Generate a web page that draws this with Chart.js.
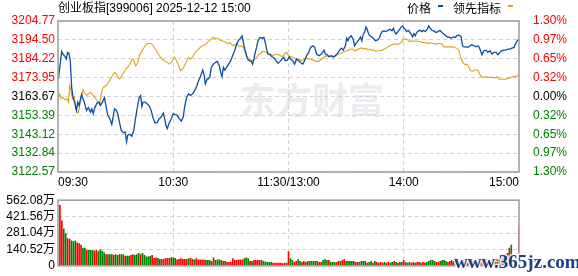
<!DOCTYPE html>
<html><head><meta charset="utf-8">
<script src="https://cdn.jsdelivr.net/npm/chart.js@4/dist/chart.umd.min.js"></script>
<style>
html,body{margin:0;padding:0;background:#fff;}
#wrap{position:relative;width:578px;height:276px;overflow:hidden;background:#fff;}
canvas{position:absolute;left:0;}
#c1{top:0;}
#c2{top:190px;}
</style></head><body>
<div id="wrap"><canvas id="c1" width="578" height="196" style="width:578px;height:196px"></canvas><canvas id="c2" width="578" height="86" style="width:578px;height:86px"></canvas></div>
<script>
// ---------- DATA ----------
const titleText = '创业板指[399006] 2025-12-12 15:00';
const prevClose = 3163.67;
const timeTicks = [0, 60, 120, 180, 240];
const timeLabels = ['09:30', '10:30', '11:30/13:00', '14:00', '15:00'];
const priceTicks = [3122.57, 3132.84, 3143.12, 3153.39, 3163.67, 3173.95, 3184.22, 3194.50, 3204.77];
const pctLabels = ['1.30%', '0.97%', '0.65%', '0.32%', '0.00%', '0.32%', '0.65%', '0.97%', '1.30%'];
const volTicks = [0, 140.52, 281.04, 421.56, 562.08];
const volLabels = ['0', '140.52万', '281.04万', '421.56万', '562.08万'];

// price (minutes after 09:30, trading minutes)
const priceMin = [
0.2,1.9,2.6,3.7,4.3,5.0,5.7,6.4,7.1,7.8,8.9,9.6,10.3,11.0,11.7,12.3,13.0,13.7,14.8,15.8,16.9,17.6,18.3,19.3,20.3,21.4,22.1,23.1,24.2,24.9,25.9,27.0,28.0,28.7,29.4,30.4,31.1,31.8,32.9,33.9,35.0,35.7,36.3,37.4,38.4,39.5,40.2,41.2,42.3,43.0,43.7,44.3,45.4,46.4,47.5,48.5,49.6,50.6,51.7,52.7,53.7,54.8,55.5,56.2,56.9,57.9,59.0,60.0,61.0,62.1,63.1,64.2,65.2,65.9,67.0,68.0,69.0,70.1,71.1,72.2,73.2,74.3,75.3,76.0,76.7,77.7,
78.1,79.0,79.8,80.9,81.9,82.9,84.0,84.7,85.4,86.1,86.8,87.8,88.8,89.9,90.9,92.0,93.0,94.0,95.1,95.8,96.5,97.2,97.9,98.6,99.6,100.6,101.3,102.0,102.7,103.4,104.1,105.2,106.2,107.2,107.9,108.6,109.3,110.4,111.4,112.4,113.5,114.5,115.6,116.6,117.6,118.3,119.4,120.4,121.1,122.2,123.2,124.2,125.3,126.3,127.4,128.4,129.4,130.5,131.5,132.6,133.6,134.6,135.7,136.7,137.8,138.5,139.2,140.2,141.2,142.3,143.3,144.4,145.4,146.5,147.5,148.5,149.6,150.3,151.0,151.7,152.7,153.7,154.4,155.5,156.5,157.5,158.2,
158.9,159.6,160.3,161.0,161.7,162.4,163.4,164.5,165.2,166.2,167.3,168.0,168.7,169.7,170.7,171.8,172.8,173.9,174.6,175.2,175.9,176.6,177.3,178.4,179.4,180.1,180.8,181.5,182.5,183.2,183.9,184.6,185.3,186.0,186.7,187.7,188.4,189.5,190.2,191.2,192.3,193.0,193.6,194.7,195.7,196.8,197.8,198.8,199.9,200.9,202.0,203.0,203.7,204.7,205.8,206.8,207.5,208.6,209.3,209.9,210.6,211.3,212.4,213.4,214.5,215.5,216.5,217.6,218.6,219.3,220.0,220.7,221.7,222.8,223.8,224.9,225.9,227.0,228.0,229.0,230.1,231.1,232.2,233.2,234.2,235.3,236.3,237.4,238.1,238.8,239.8
];
const priceVal = [
3173.2,3188.2,3186.8,3185.3,3184.1,3187.7,3187.1,3183.2,3168.7,3163.3,3159.7,3156.1,3160.6,3158.8,3162.4,3164.8,3162.4,3160.6,3156.1,3157.6,3155.2,3157.0,3154.3,3157.9,3160.1,3160.6,3158.8,3160.6,3163.0,3158.8,3153.4,3151.6,3148.5,3152.5,3157.0,3156.1,3154.3,3150.7,3145.3,3143.9,3144.4,3139.0,3142.6,3143.1,3142.0,3145.3,3150.7,3157.0,3163.3,3164.2,3158.3,3160.6,3160.6,3159.7,3158.6,3156.1,3151.6,3149.3,3149.6,3151.6,3152.5,3154.7,3151.6,3148.0,3146.2,3149.3,3151.6,3154.3,3153.8,3153.4,3151.6,3150.3,3152.5,3157.9,3163.3,3165.1,3164.2,3165.1,3166.9,3169.1,3172.3,3175.0,3178.1,3175.9,3170.5,3173.2,
3173.2,3174.1,3179.5,3181.3,3182.2,3182.8,3180.4,3176.8,3174.5,3179.5,3178.1,3179.5,3181.3,3183.2,3185.9,3188.6,3192.2,3194.3,3195.4,3196.7,3193.1,3189.5,3186.8,3184.1,3183.2,3182.8,3181.3,3184.1,3187.7,3190.4,3194.0,3195.8,3195.4,3195.8,3193.1,3189.5,3186.8,3186.4,3185.3,3184.6,3183.2,3181.7,3182.8,3184.1,3185.0,3183.2,3183.5,3185.3,3184.1,3183.2,3181.3,3184.1,3183.2,3182.2,3181.3,3183.2,3185.9,3187.7,3190.4,3191.3,3190.7,3186.8,3185.9,3186.4,3187.7,3188.9,3186.8,3186.4,3185.3,3185.9,3185.3,3185.9,3187.1,3188.6,3190.0,3188.9,3191.3,3195.4,3194.0,3195.8,3196.7,3194.9,3191.3,3193.1,3194.3,3196.1,3194.0,
3197.6,3198.5,3201.5,3200.3,3197.6,3196.7,3196.1,3194.9,3194.0,3194.3,3195.4,3197.6,3199.0,3199.4,3199.0,3199.7,3200.3,3199.4,3200.8,3199.0,3197.6,3198.5,3199.4,3201.2,3202.1,3200.8,3200.3,3199.0,3199.7,3198.5,3197.6,3196.1,3197.9,3196.7,3198.5,3199.4,3199.7,3199.0,3199.7,3199.0,3200.3,3202.1,3201.2,3199.7,3199.4,3198.5,3199.0,3199.7,3198.5,3197.6,3196.7,3195.8,3196.1,3195.4,3196.1,3195.8,3196.7,3197.2,3196.7,3196.1,3191.3,3190.7,3190.7,3190.4,3191.3,3191.8,3191.3,3190.7,3191.3,3190.4,3188.6,3186.4,3188.6,3188.9,3187.7,3188.6,3186.8,3187.7,3187.7,3186.4,3187.7,3188.6,3188.9,3188.9,3189.5,3189.5,3190.0,3190.4,3192.2,3193.6,3194.9
];

// leading indicator
const leadMin = [
0.2,0.9,1.6,2.6,3.7,4.7,5.4,6.1,6.8,7.5,8.5,9.2,9.9,10.6,11.3,12.3,13.0,13.7,14.8,15.8,16.9,17.9,19.0,20.0,21.0,21.7,22.4,23.1,24.2,25.2,26.3,27.3,28.3,29.4,30.4,31.1,32.2,33.2,34.3,35.3,36.3,37.4,38.4,39.1,39.8,40.5,41.6,42.3,43.3,44.3,45.4,46.4,47.5,48.5,49.6,50.6,51.7,52.7,53.7,54.8,55.8,56.9,57.9,59.0,60.0,60.7,61.7,62.8,63.8,64.9,65.9,67.0,68.0,69.0,70.1,71.1,72.2,73.2,74.3,75.3,76.3,77.4,
78.1,79.1,80.2,81.2,82.2,83.3,84.3,85.4,86.4,87.5,88.5,89.5,90.6,91.6,92.7,93.7,94.7,95.4,96.5,97.2,98.2,99.3,100.3,101.3,102.4,103.4,104.5,105.5,106.5,107.6,108.6,109.7,110.7,111.7,112.8,113.8,114.9,115.9,116.9,118.0,119.0,120.1,121.1,122.2,123.2,124.2,125.3,126.3,127.4,128.4,129.4,130.5,131.5,132.6,133.6,134.6,135.7,136.7,137.8,138.8,139.9,140.9,141.9,143.0,144.0,145.1,146.1,147.1,148.2,149.2,150.3,151.3,152.3,153.4,154.4,155.5,156.5,157.5,158.6,
159.3,160.3,161.4,162.4,163.4,164.5,165.5,166.6,167.6,168.7,169.7,170.7,171.8,172.8,173.9,174.9,175.9,177.0,178.0,179.1,180.1,181.1,182.2,183.2,184.3,185.3,186.4,187.4,188.4,189.5,190.5,191.6,192.6,193.6,194.7,195.7,196.8,197.8,198.8,199.9,200.9,202.0,203.0,204.1,205.1,206.1,207.2,208.2,208.9,209.6,210.3,211.0,212.0,213.1,213.8,214.8,215.9,216.9,217.9,218.6,219.3,220.4,221.4,222.4,223.5,224.5,225.6,226.6,227.7,228.7,229.7,230.8,231.8,232.9,233.9,234.9,236.0,237.0,238.1,239.1,239.8
];
const leadVal = [
3163.3,3165.1,3162.4,3163.3,3161.9,3162.4,3160.6,3169.6,3166.9,3162.4,3163.3,3157.0,3155.2,3154.7,3158.8,3163.3,3167.3,3166.0,3164.2,3165.1,3166.0,3164.8,3163.3,3161.9,3160.6,3159.7,3164.2,3167.8,3169.1,3169.6,3171.4,3173.2,3175.0,3176.8,3175.9,3174.1,3173.2,3175.0,3176.8,3178.6,3179.5,3181.3,3183.5,3184.1,3182.2,3180.4,3182.2,3185.9,3187.7,3189.5,3191.3,3192.5,3192.5,3192.5,3191.3,3189.5,3187.7,3185.9,3184.6,3183.5,3182.8,3182.1,3181.3,3182.2,3184.1,3185.0,3183.2,3180.4,3177.7,3178.6,3180.4,3183.2,3185.0,3184.1,3185.3,3187.1,3188.6,3189.5,3190.7,3191.3,3191.8,3192.5,
3193.6,3194.3,3195.4,3195.8,3194.9,3195.4,3194.3,3194.0,3193.6,3193.1,3192.5,3193.1,3191.8,3191.3,3192.2,3191.8,3190.7,3191.3,3190.4,3188.9,3185.9,3184.1,3183.5,3183.2,3184.1,3185.0,3186.4,3187.1,3188.2,3188.0,3187.7,3187.1,3186.8,3185.9,3186.4,3186.8,3186.4,3185.9,3185.3,3187.1,3187.7,3185.9,3185.3,3185.0,3184.6,3183.5,3184.1,3183.2,3183.5,3184.1,3184.6,3184.1,3184.1,3183.5,3183.2,3182.8,3182.8,3183.5,3184.6,3185.3,3185.9,3185.3,3185.9,3185.0,3185.3,3185.9,3186.8,3187.1,3187.7,3188.2,3188.6,3188.9,3189.5,3189.5,3188.6,3188.9,3189.5,3190.0,3190.0,
3189.5,3190.0,3188.9,3189.5,3188.9,3188.9,3188.2,3188.6,3188.6,3188.9,3189.5,3190.0,3190.7,3191.3,3191.8,3192.2,3192.2,3192.2,3192.5,3193.6,3194.9,3194.9,3194.3,3193.6,3194.0,3193.6,3194.0,3193.6,3193.6,3193.1,3193.1,3192.9,3192.5,3192.9,3192.5,3192.5,3192.2,3192.5,3192.5,3192.2,3190.7,3190.7,3190.7,3190.7,3190.7,3190.7,3190.0,3189.5,3188.2,3185.0,3183.2,3181.8,3181.0,3181.3,3179.9,3177.7,3177.4,3178.1,3178.1,3178.1,3176.3,3174.5,3174.1,3174.5,3174.1,3174.1,3174.1,3174.1,3173.8,3174.5,3173.1,3173.1,3173.1,3173.1,3173.4,3173.8,3174.1,3174.5,3174.5,3175.0,3175.6
];

// volume per minute (万), index = minute after 09:30
const volume = [
0,
519,385,316,273,233,228,215,208,213,197,
190,177,152,152,132,132,132,132,127,132,
122,139,127,114,96,96,96,96,89,96,
89,96,96,96,84,84,84,89,96,89,
96,106,96,106,89,76,76,81,89,63,
68,63,56,56,56,63,63,63,71,68,
63,51,56,61,56,56,56,61,63,56,
51,61,51,
51,51,51,46,46,46,38,68,46,51,
51,46,38,38,30,30,30,61,46,46,
51,51,51,61,68,61,38,38,46,46,
46,46,46,38,33,30,30,30,23,23,
23,23,23,18,23,23,
122,
61,46,30,38,53,38,30,38,30,38,
38,38,38,38,38,30,30,46,53,46,
46,30,30,30,30,38,38,46,53,38,
38,38,38,38,30,30,30,38,38,38,
23,30,38,23,38,
30,23,30,23,30,23,30,23,30,38,
30,23,30,30,46,30,23,30,23,30,
23,30,30,23,30,23,30,38,46,46,
38,30,30,38,46,46,38,30,38,46,
38,46,38,30,38,46,38,30,38,46,
38,46,38,53,38,46,38,53,46,38,
53,46,61,53,68,61,76,84,106,152,
177,0,0,0,334
];
// 1 = up (red), 0 = down (green)
const volUp = [
1,
1,1,0,0,1,1,0,0,0,1,
1,1,0,0,1,0,0,0,1,1,
0,0,0,0,1,0,0,1,0,0,
0,1,0,0,1,0,0,1,1,0,
0,0,1,0,0,0,0,0,1,1,
1,0,0,1,1,1,1,1,0,0,
0,1,1,1,1,1,1,0,1,1,
0,1,1,
1,1,1,0,0,0,1,1,0,0,
0,0,1,0,1,1,1,1,1,1,
1,1,1,0,0,0,1,0,1,1,
1,1,0,0,0,0,0,0,1,1,
1,1,1,1,1,0,
1,
0,0,1,1,0,0,1,1,0,1,
0,0,0,0,0,1,1,0,0,0,
1,0,0,0,1,1,0,1,1,0,
0,0,0,1,1,0,1,0,0,0,
1,0,0,1,0,
1,0,1,1,0,1,1,0,0,1,
0,1,0,1,1,0,0,0,1,1,
0,1,1,0,1,1,0,0,0,0,
0,1,1,0,0,0,0,1,1,1,
0,0,1,1,0,0,1,1,0,0,
1,1,0,0,1,1,0,1,1,0,
1,0,1,0,1,0,1,0,1,1,
0,1,1,1,1
];

// ---------- STYLE ----------
const RED = '#ff0000', GREEN = '#008000', BLUE = '#0b4fa0', ORANGE = '#dca21e';
const GRID = '#d2d2d2', FRAME = '#a0a0a0';
const FONT = 'Liberation Sans, "Noto Sans CJK SC", sans-serif';
const PL = 58, PR = 59;

function frame(chart) {
  const {ctx, chartArea: a} = chart;
  ctx.save();
  ctx.strokeStyle = FRAME; ctx.lineWidth = 1.6;
  ctx.strokeRect(a.left, a.top, a.right - a.left, a.bottom - a.top);
  ctx.restore();
}

const decoA = {
  id: 'decoA',
  beforeDatasetsDraw(chart) {
    const ctx = chart.ctx;
    ctx.save();
    ctx.font = 'bold 36px "Noto Sans CJK SC"';
    ctx.fillStyle = 'rgba(205,205,216,0.38)';
    ctx.textBaseline = 'alphabetic';
    ctx.fillText('东方财富', 240, 114);
    ctx.restore();
  },
  afterDraw(chart) {
    frame(chart);
    const ctx = chart.ctx;
    ctx.save();
    ctx.font = '12px ' + FONT;
    ctx.fillStyle = '#000';
    ctx.textBaseline = 'middle';
    ctx.textAlign = 'left';
    ctx.fillText(titleText, 58, 9);
    ctx.fillText('价格', 407, 10);
    ctx.fillStyle = BLUE; ctx.fillRect(438, 5, 5, 2);
    ctx.fillStyle = '#000';
    ctx.fillText('领先指标', 453, 10);
    ctx.fillStyle = ORANGE; ctx.fillRect(508, 5, 5, 2);
    ctx.restore();
  }
};

const decoB = {
  id: 'decoB',
  afterDraw(chart) {
    frame(chart);
    const ctx = chart.ctx;
    ctx.save();
    ctx.font = 'bold 19px "Liberation Serif"';
    ctx.textBaseline = 'alphabetic';
    ctx.lineWidth = 3; ctx.strokeStyle = 'rgba(255,255,255,0.8)';
    ctx.strokeText('www.365jz.com', 454, 78);
    ctx.fillStyle = '#1d3f86';
    ctx.fillText('www.365jz.com', 454, 78);
    ctx.restore();
  }
};

const priceColor = (c) => c.index < 4 ? GREEN : (c.index === 4 ? '#000' : RED);

new Chart(document.getElementById('c1'), {
  type: 'line',
  data: {
    datasets: [
      { label: '价格', data: priceMin.map((m, i) => ({x: m, y: priceVal[i]})),
        borderColor: BLUE, borderWidth: 1.3, pointRadius: 0, tension: 0, yAxisID: 'y' },
      { label: '领先指标', data: leadMin.map((m, i) => ({x: m, y: leadVal[i]})),
        borderColor: ORANGE, borderWidth: 1.1, pointRadius: 0, tension: 0, yAxisID: 'y' }
    ]
  },
  options: {
    responsive: false, animation: false, devicePixelRatio: 1,
    layout: { padding: { top: 21, left: 0, right: 0, bottom: 0 } },
    plugins: { legend: { display: false }, tooltip: { enabled: false } },
    scales: {
      x: {
        type: 'linear', min: 0, max: 240,
        afterBuildTicks: s => { s.ticks = timeTicks.map(v => ({value: v})); },
        afterFit: s => { s.height = 24; },
        ticks: { callback: (v, i) => timeLabels[i], autoSkip: false, maxRotation: 0, align: 'inner',
                 color: '#000', font: { size: 12, family: FONT }, padding: 3 },
        grid: { color: c => (c.index > 0 && c.index < 4) ? GRID : 'rgba(0,0,0,0)', drawTicks: false, lineWidth: 1 },
        border: { display: false, dash: [4, 3] }
      },
      y: {
        position: 'left', min: priceTicks[0], max: priceTicks[priceTicks.length - 1],
        afterBuildTicks: s => { s.ticks = priceTicks.map(v => ({value: v})); },
        afterFit: s => { s.width = PL; },
        ticks: { callback: (v, i) => priceTicks[i].toFixed(2), color: priceColor, autoSkip: false,
                 font: { size: 12, family: FONT }, padding: 3 },
        grid: { color: GRID, drawTicks: false, lineWidth: 1 },
        border: { display: false, dash: [4, 3] }
      },
      y2: {
        position: 'right', min: priceTicks[0], max: priceTicks[priceTicks.length - 1],
        afterBuildTicks: s => { s.ticks = priceTicks.map(v => ({value: v})); },
        afterFit: s => { s.width = PR; },
        ticks: { callback: (v, i) => pctLabels[i], color: priceColor, autoSkip: false,
                 font: { size: 12, family: FONT }, padding: 6 },
        grid: { display: false },
        border: { display: false }
      }
    }
  },
  plugins: [decoA]
});

new Chart(document.getElementById('c2'), {
  type: 'bar',
  data: {
    datasets: [{
      data: volume.map((v, i) => ({x: i, y: v})),
      backgroundColor: volUp.map(u => u ? RED : GREEN),
      barThickness: 1, borderWidth: 0, grouped: false
    }]
  },
  options: {
    responsive: false, animation: false, devicePixelRatio: 1,
    layout: { padding: { top: 6, left: 0, right: PR, bottom: 0 } },
    plugins: { legend: { display: false }, tooltip: { enabled: false } },
    scales: {
      x: {
        type: 'linear', min: 0, max: 240, offset: false,
        afterBuildTicks: s => { s.ticks = timeTicks.map(v => ({value: v})); },
        afterFit: s => { s.height = 6; },
        ticks: { display: false },
        grid: { color: c => (c.index > 0 && c.index < 4) ? GRID : 'rgba(0,0,0,0)', drawTicks: false, offset: false },
        border: { display: false, dash: [4, 3] }
      },
      y: {
        position: 'left', min: 0, max: volTicks[volTicks.length - 1],
        afterBuildTicks: s => { s.ticks = volTicks.map(v => ({value: v})); },
        afterFit: s => { s.width = PL; },
        ticks: { callback: (v, i) => volLabels[i], color: '#000', autoSkip: false,
                 font: { size: 12, family: FONT }, padding: 3 },
        grid: { color: GRID, drawTicks: false },
        border: { display: false, dash: [4, 3] }
      }
    }
  },
  plugins: [decoB]
});
</script>
</body></html>
